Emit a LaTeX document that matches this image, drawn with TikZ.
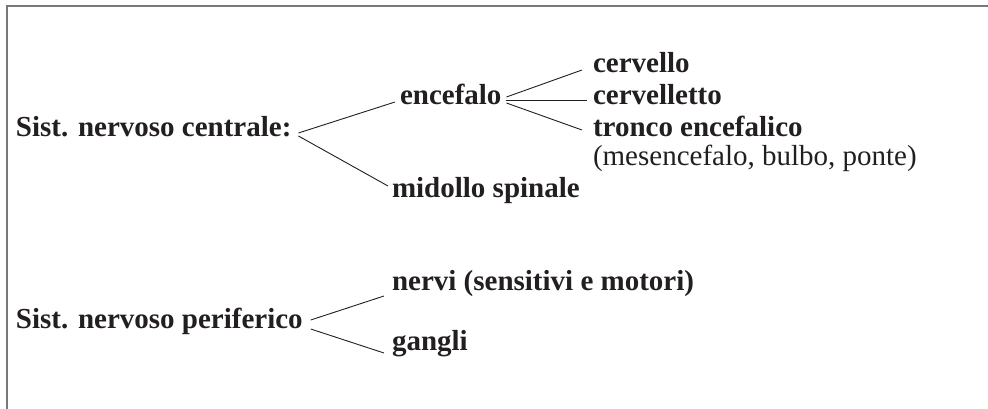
\documentclass[tikz,border=0pt]{standalone}
\usepackage{fontspec}
\setmainfont{Liberation Serif}
\definecolor{ink}{RGB}{35,31,32}
\definecolor{framegray}{RGB}{120,120,120}
\begin{document}
\begin{tikzpicture}[x=1pt,y=-1pt,
  lbl/.style={anchor=base west,inner sep=0pt,outer sep=0pt,text=ink,font=\fontsize{29}{34}\selectfont\bfseries},
  lblr/.style={anchor=base west,inner sep=0pt,outer sep=0pt,text=ink,font=\fontsize{29}{34}\selectfont},
  conn/.style={draw=ink,line width=0.9pt},
  frameline/.style={draw=framegray,line width=1.5pt}]
\useasboundingbox (0,0) rectangle (988,409);
\draw[frameline] (7,409) -- (7,6) -- (988,6);
% nodes
\node[lbl] (snc) at (16,137) {Sist. nervoso centrale:};
\node[lbl] (enc) at (400,105) {encefalo};
\node[lbl] (mid) at (392,197) {midollo spinale};
\node[lbl] (cer) at (593,73) {cervello};
\node[lbl] (crt) at (593,105) {cervelletto};
\node[lbl] (tro) at (593,137) {tronco encefalico};
\node[lblr] (mes) at (593,165) {(mesencefalo, bulbo, ponte)};
\node[lbl] (snp) at (16,328) {Sist. nervoso periferico};
\node[lbl] (ner) at (392,290) {nervi (sensitivi e motori)};
\node[lbl] (gan) at (392,350) {gangli};
% connectors
\draw[conn] ([xshift=7pt,yshift=4pt]snc.base east) -- ([xshift=-5pt,yshift=3pt]enc.base west);
\draw[conn] ([xshift=7pt,yshift=1pt]snc.base east) -- ([xshift=-4pt,yshift=11pt]mid.base west);
\draw[conn] ([xshift=5pt,yshift=8pt]enc.base east) -- ([xshift=-11pt,yshift=3pt]cer.base west);
\draw[conn] ([xshift=5pt,yshift=5pt]enc.base east) -- ([xshift=-6pt,yshift=5pt]crt.base west);
\draw[conn] ([xshift=5pt,yshift=2pt]enc.base east) -- ([xshift=-11pt,yshift=7pt]tro.base west);
\draw[conn] ([xshift=8pt,yshift=8pt]snp.base east) -- ([xshift=-8pt,yshift=-6pt]ner.base west);
\draw[conn] ([xshift=8pt,yshift=-1pt]snp.base east) -- ([xshift=-8pt,yshift=-3pt]gan.base west);
\end{tikzpicture}
\end{document}
